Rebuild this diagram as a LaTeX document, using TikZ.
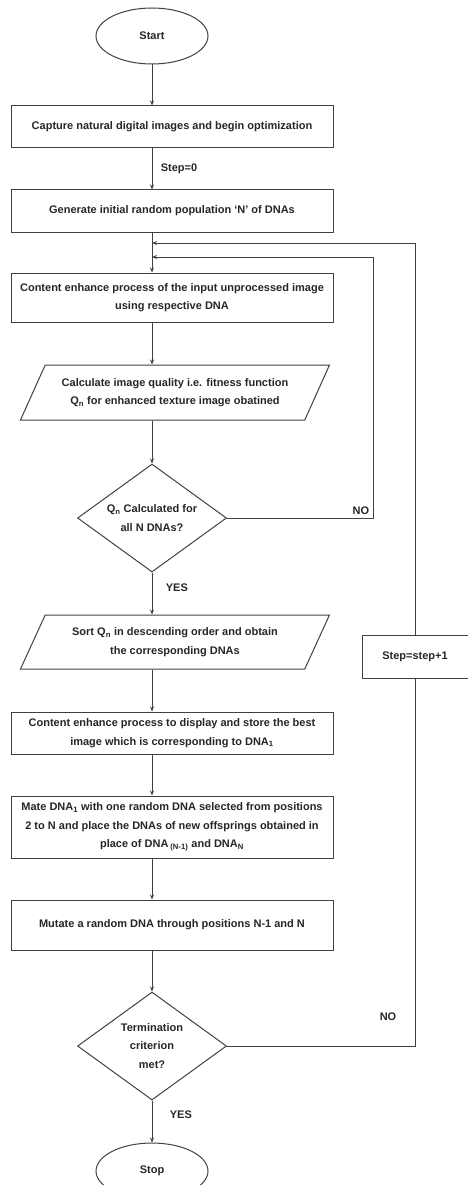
\documentclass[tikz,border=0pt]{standalone}
\usepackage{fontspec}
\setmainfont{Liberation Sans}
\usetikzlibrary{positioning,shapes.geometric,arrows.meta}
\tikzset{
  fc base/.style={
    draw=black!75,
    line width=1pt,
    font=\bfseries\fontsize{11}{18.5}\selectfont,
    text=black!85,
    align=center,
    inner sep=2pt,
  },
  fc terminal/.style={fc base, ellipse, minimum width=112pt, minimum height=56pt},
  fc box/.style={fc base, rectangle, minimum width=322pt, minimum height=42pt},
  fc io/.style={
    fc base,
    trapezium,
    trapezium left angle=53,
    trapezium right angle=127,
    trapezium stretches body,
    minimum width=309pt,
    minimum height=55pt,
  },
  fc decision/.style={
    fc base,
    diamond,
    aspect=1.38,
    inner sep=0pt,
    minimum width=149pt,
    minimum height=108pt,
  },
  fc arrow/.style={-{Stealth[length=5pt,width=4pt]}, line width=1pt, draw=black!75},
  fc line/.style={line width=1pt, draw=black!75},
  fc label/.style={font=\bfseries\fontsize{11}{13}\selectfont, text=black!85},
}

\begin{document}
\begin{tikzpicture}[node distance=41pt]
  \useasboundingbox (0,0) rectangle (468pt,-1185pt);
  \node[fc terminal] (start) at (152pt,-36pt) {Start};
  \node[fc box,below=41pt of start,xshift=20pt] (capture) {Capture natural digital images and begin optimization};
  \node[fc box,below=41pt of capture] (generate) {Generate initial random population `N' of DNAs};
  \node[fc box,below=40pt of generate,minimum height=49pt] (enhance) {Content enhance process of the input unprocessed image\\using respective DNA};
  \node[fc io,below=42pt of enhance,xshift=3pt] (quality) {Calculate image quality i.e. fitness function\\Q\textsubscript{n} for enhanced texture image obatined};
  \node[fc decision,below=43pt of quality,xshift=-23pt] (alldna) {Q\textsubscript{n} Calculated for\\all N DNAs?};
  \node[fc io,below=42pt of alldna,xshift=23pt,minimum height=54pt] (sorted) {Sort Q\textsubscript{n} in descending order and obtain\\the corresponding DNAs};
  \node[fc box,below=42pt of sorted,xshift=-3pt] (display) {Content enhance process to display and store the best\\image which is corresponding to DNA\textsubscript{1}};
  \node[fc box,below=41pt of display,minimum height=62pt] (mate) {Mate DNA\textsubscript{1} with one random DNA selected from positions\\2 to N and place the DNAs of new offsprings obtained in\\place of DNA\,\textsubscript{(N-1)} and DNA\textsubscript{N}};
  \node[fc box,below=41pt of mate,minimum height=50pt] (mutate) {Mutate a random DNA through positions N-1 and N};
  \node[fc decision,below=41pt of mutate,xshift=-20pt] (term) {Termination\\criterion\\met?};
  \node[fc terminal,below=42pt of term] (stop) {Stop};
  \node[fc box,minimum width=106pt,minimum height=43pt] (update) at (415pt,-657pt) {Step=step+1};

  \coordinate (join1) at (152pt,-243pt);
  \coordinate (join2) at (152pt,-257pt);
  \coordinate (ret1) at (373pt,-257pt);

  \draw[fc arrow] (start) -- (start |- capture.north);
  \draw[fc arrow] (start |- capture.south) -- node[fc label,right,xshift=5pt] {Step=0} (start |- generate.north);
  \draw[fc arrow] (start |- generate.south) -- (start |- enhance.north);
  \draw[fc arrow] (start |- enhance.south) -- (start |- quality.north);
  \draw[fc arrow] (alldna |- quality.south) -- (alldna.north);
  \draw[fc arrow] (alldna.south) -- node[fc label,right,pos=.35,xshift=10pt] {YES} (alldna |- sorted.north);
  \draw[fc arrow] (alldna |- sorted.south) -- (alldna |- display.north);
  \draw[fc arrow] (alldna |- display.south) -- (alldna |- mate.north);
  \draw[fc arrow] (alldna |- mate.south) -- (alldna |- mutate.north);
  \draw[fc arrow] (term |- mutate.south) -- (term.north);
  \draw[fc arrow] (term.south) -- node[fc label,right,pos=.33,xshift=14pt] {YES} (stop.north);

  % loop back from the two checks
  \draw[fc arrow] (alldna.east) -| node[fc label,above left,pos=.5] {NO} (ret1) -- (join2);
  \draw[fc line] (term.east) -| node[fc label,pos=.5,xshift=-27pt,yshift=29pt] {NO} (update.south);
  \draw[fc arrow] (update.north) |- (join1);
\end{tikzpicture}
\end{document}
